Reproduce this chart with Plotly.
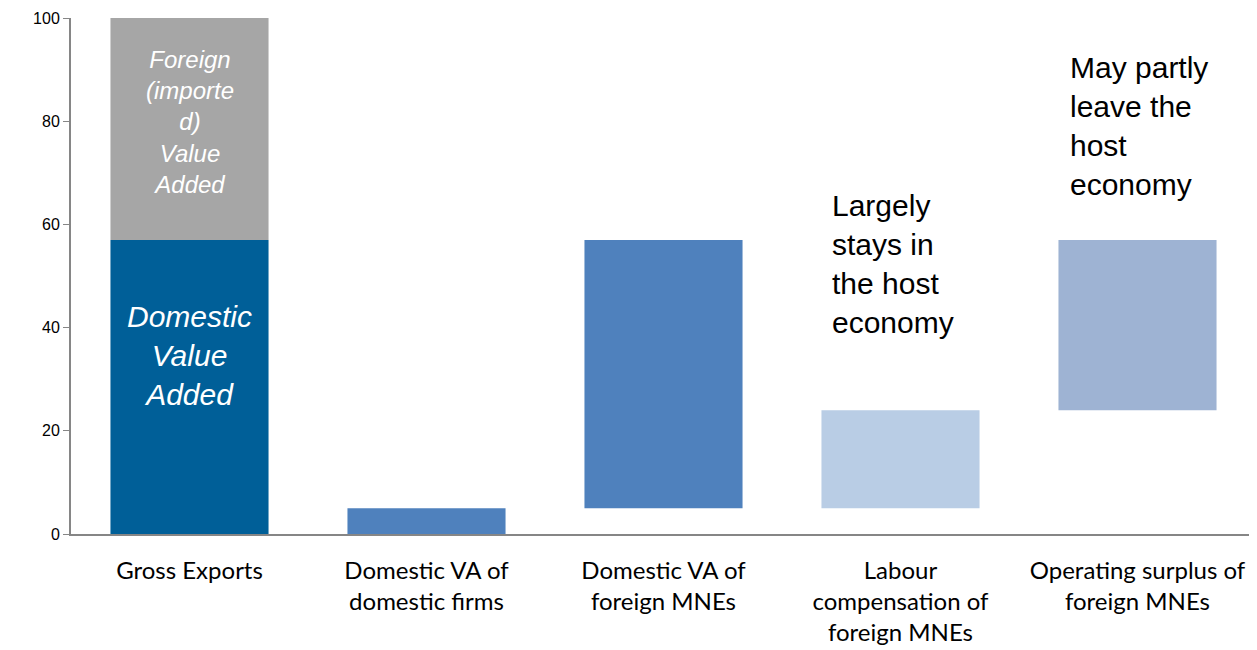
import plotly.graph_objects as go

categories = ["Gross Exports", "Domestic VA of<br>domestic firms", "Domestic VA of<br>foreign MNEs",
              "Labour<br>compensation of<br>foreign MNEs", "Operating surplus of<br>foreign MNEs"]
bar_base = [0, 0, 5, 5, 24]
bar_top = [57, 5, 57, 24, 57]
foreign_base = [57]
foreign_top = [100]
colors = ["#005F98", "#4F81BD", "#4F81BD", "#B9CDE5", "#9EB3D3"]
y_ticks = [0, 20, 40, 60, 80, 100]

fig = go.Figure()
fig.add_trace(go.Bar(
    x=categories, y=[t - b for t, b in zip(bar_top, bar_base)], base=bar_base,
    marker=dict(color=colors, line=dict(width=0)), hoverinfo="skip", showlegend=False))
fig.add_trace(go.Bar(
    x=categories[:1], y=[t - b for t, b in zip(foreign_top, foreign_base)], base=foreign_base,
    marker=dict(color="#A6A6A6", line=dict(width=0)), hoverinfo="skip", showlegend=False))

fig.add_annotation(x=categories[0], y=79.8, text="<i>Foreign<br>(importe<br>d)<br>Value<br>Added</i>",
                   showarrow=False, font=dict(family="Liberation Sans", size=24, color="white"))
fig.add_annotation(x=categories[0], y=34.6, text="<i>Domestic<br>Value<br>Added</i>",
                   showarrow=False, font=dict(family="Liberation Sans", size=30, color="white"))
fig.add_annotation(x=3, xshift=-71, y=67.2, xanchor="left", yanchor="top", align="left",
                   text="Largely<br>stays in<br>the host<br>economy", showarrow=False,
                   font=dict(family="Liberation Sans", size=30, color="black"))
fig.add_annotation(x=4, xshift=-70, y=94.0, xanchor="left", yanchor="top", align="left",
                   text="May partly<br>leave the<br>host<br>economy", showarrow=False,
                   font=dict(family="Liberation Sans", size=30, color="black"))

fig.update_layout(
    width=1249, height=642, barmode="overlay", bargap=0.333,
    margin=dict(l=63, r=1, t=10, b=116),
    plot_bgcolor="white", paper_bgcolor="white",
    xaxis=dict(showline=True, linecolor="#868686", linewidth=2, ticks="", showgrid=False,
               ticklabelstandoff=14,
               tickfont=dict(family="Lato", size=24, color="black")),
    yaxis=dict(range=[0, 100], tickvals=y_ticks, showline=True, linecolor="#868686", linewidth=2,
               ticks="outside", ticklen=6, tickcolor="#868686", showgrid=False, zeroline=False,
               tickfont=dict(family="Liberation Sans", size=16, color="black")),
)
fig.write_html("out.html")
